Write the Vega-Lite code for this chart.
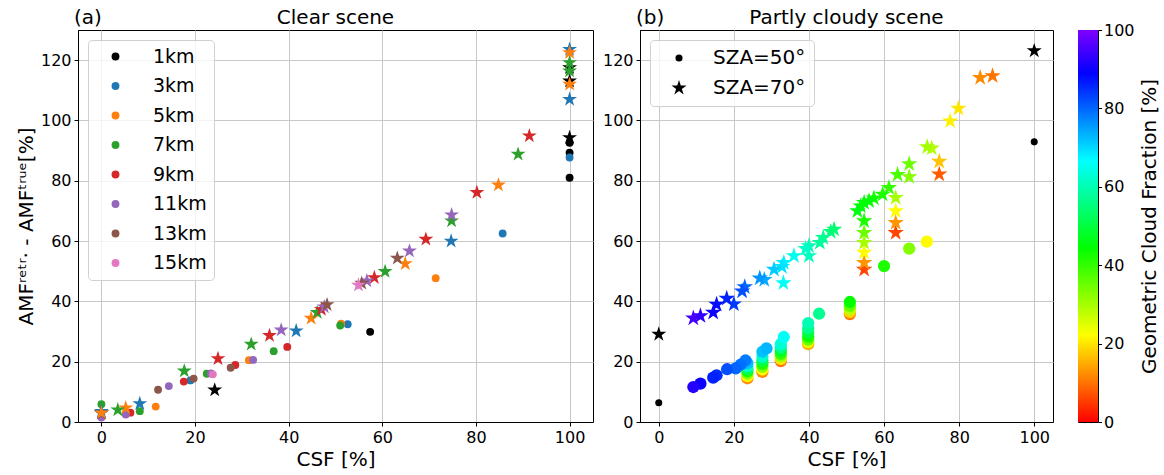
{
  "$schema": "https://vega.github.io/schema/vega-lite/v6.json",
  "padding": {"left": 15, "top": 7, "right": 2, "bottom": 2},
  "config": {
    "font": "DejaVu Sans",
    "view": {"stroke": "black", "strokeWidth": 1},
    "axis": {"labelFontSize": 16, "titleFontSize": 20, "titleFontWeight": "normal", "labelColor": "black", "titleColor": "black", "domainColor": "black", "tickColor": "black", "tickSize": 4, "gridColor": "#c8c8c8", "gridOpacity": 1, "labelPadding": 3, "labelFlush": false, "titlePadding": 4},
    "legend": {"labelColor": "black", "titleColor": "black"}
  },
  "datasets": {
    "clear": [
      {"alt": "1km", "sza": "SZA=50°", "csf": 57.4, "amf": 29.9},
      {"alt": "1km", "sza": "SZA=50°", "csf": 100, "amf": 92.6},
      {"alt": "1km", "sza": "SZA=50°", "csf": 100, "amf": 89.3},
      {"alt": "1km", "sza": "SZA=50°", "csf": 100, "amf": 81.0},
      {"alt": "3km", "sza": "SZA=50°", "csf": 19.0, "amf": 13.8},
      {"alt": "3km", "sza": "SZA=50°", "csf": 52.6, "amf": 32.4},
      {"alt": "3km", "sza": "SZA=50°", "csf": 85.7, "amf": 62.5},
      {"alt": "3km", "sza": "SZA=50°", "csf": 100, "amf": 87.7},
      {"alt": "5km", "sza": "SZA=50°", "csf": 11.6, "amf": 5.1},
      {"alt": "5km", "sza": "SZA=50°", "csf": 31.5, "amf": 20.5},
      {"alt": "5km", "sza": "SZA=50°", "csf": 51.2, "amf": 32.6},
      {"alt": "5km", "sza": "SZA=50°", "csf": 71.4, "amf": 47.7},
      {"alt": "7km", "sza": "SZA=50°", "csf": 0, "amf": 5.9},
      {"alt": "7km", "sza": "SZA=50°", "csf": 8.2, "amf": 3.6},
      {"alt": "7km", "sza": "SZA=50°", "csf": 22.5, "amf": 16.0},
      {"alt": "7km", "sza": "SZA=50°", "csf": 36.8, "amf": 23.5},
      {"alt": "7km", "sza": "SZA=50°", "csf": 51.0, "amf": 32.0},
      {"alt": "9km", "sza": "SZA=50°", "csf": 6.2, "amf": 3.1},
      {"alt": "9km", "sza": "SZA=50°", "csf": 17.6, "amf": 13.4},
      {"alt": "9km", "sza": "SZA=50°", "csf": 28.6, "amf": 18.9},
      {"alt": "9km", "sza": "SZA=50°", "csf": 39.7, "amf": 24.9},
      {"alt": "11km", "sza": "SZA=50°", "csf": 0, "amf": 1.5},
      {"alt": "11km", "sza": "SZA=50°", "csf": 5.2, "amf": 2.5},
      {"alt": "11km", "sza": "SZA=50°", "csf": 14.4, "amf": 11.9},
      {"alt": "11km", "sza": "SZA=50°", "csf": 23.4, "amf": 16.1},
      {"alt": "11km", "sza": "SZA=50°", "csf": 32.4, "amf": 20.6},
      {"alt": "13km", "sza": "SZA=50°", "csf": 12.1, "amf": 10.7},
      {"alt": "13km", "sza": "SZA=50°", "csf": 19.7, "amf": 14.4},
      {"alt": "13km", "sza": "SZA=50°", "csf": 27.6, "amf": 18.0},
      {"alt": "15km", "sza": "SZA=50°", "csf": 23.8, "amf": 15.8},
      {"alt": "1km", "sza": "SZA=70°", "csf": 0, "amf": 3.0},
      {"alt": "1km", "sza": "SZA=70°", "csf": 24.2, "amf": 10.6},
      {"alt": "1km", "sza": "SZA=70°", "csf": 100, "amf": 94.3},
      {"alt": "1km", "sza": "SZA=70°", "csf": 100, "amf": 113.1},
      {"alt": "1km", "sza": "SZA=70°", "csf": 100, "amf": 117.5},
      {"alt": "3km", "sza": "SZA=70°", "csf": 0, "amf": 3.5},
      {"alt": "3km", "sza": "SZA=70°", "csf": 8.2, "amf": 6.1},
      {"alt": "3km", "sza": "SZA=70°", "csf": 41.6, "amf": 30.2},
      {"alt": "3km", "sza": "SZA=70°", "csf": 74.7, "amf": 60.0},
      {"alt": "3km", "sza": "SZA=70°", "csf": 100, "amf": 107.0},
      {"alt": "3km", "sza": "SZA=70°", "csf": 100, "amf": 123.6},
      {"alt": "5km", "sza": "SZA=70°", "csf": 0, "amf": 3.0},
      {"alt": "5km", "sza": "SZA=70°", "csf": 5.2, "amf": 4.7},
      {"alt": "5km", "sza": "SZA=70°", "csf": 44.8, "amf": 34.4},
      {"alt": "5km", "sza": "SZA=70°", "csf": 64.9, "amf": 52.5},
      {"alt": "5km", "sza": "SZA=70°", "csf": 84.8, "amf": 78.6},
      {"alt": "5km", "sza": "SZA=70°", "csf": 100, "amf": 112.0},
      {"alt": "5km", "sza": "SZA=70°", "csf": 100, "amf": 122.5},
      {"alt": "7km", "sza": "SZA=70°", "csf": 3.5, "amf": 4.0},
      {"alt": "7km", "sza": "SZA=70°", "csf": 17.7, "amf": 16.9},
      {"alt": "7km", "sza": "SZA=70°", "csf": 32.0, "amf": 25.8},
      {"alt": "7km", "sza": "SZA=70°", "csf": 46.1, "amf": 36.3},
      {"alt": "7km", "sza": "SZA=70°", "csf": 60.6, "amf": 49.9},
      {"alt": "7km", "sza": "SZA=70°", "csf": 74.8, "amf": 66.7},
      {"alt": "7km", "sza": "SZA=70°", "csf": 89.0, "amf": 88.8},
      {"alt": "7km", "sza": "SZA=70°", "csf": 100, "amf": 116.4},
      {"alt": "7km", "sza": "SZA=70°", "csf": 100, "amf": 119.2},
      {"alt": "9km", "sza": "SZA=70°", "csf": 24.9, "amf": 21.0},
      {"alt": "9km", "sza": "SZA=70°", "csf": 35.9, "amf": 28.7},
      {"alt": "9km", "sza": "SZA=70°", "csf": 47.0, "amf": 37.3},
      {"alt": "9km", "sza": "SZA=70°", "csf": 58.3, "amf": 47.9},
      {"alt": "9km", "sza": "SZA=70°", "csf": 69.3, "amf": 60.6},
      {"alt": "9km", "sza": "SZA=70°", "csf": 80.2, "amf": 76.1},
      {"alt": "9km", "sza": "SZA=70°", "csf": 91.4, "amf": 94.9},
      {"alt": "11km", "sza": "SZA=70°", "csf": 38.4, "amf": 30.5},
      {"alt": "11km", "sza": "SZA=70°", "csf": 47.6, "amf": 38.2},
      {"alt": "11km", "sza": "SZA=70°", "csf": 56.7, "amf": 46.8},
      {"alt": "11km", "sza": "SZA=70°", "csf": 65.8, "amf": 56.7},
      {"alt": "11km", "sza": "SZA=70°", "csf": 74.8, "amf": 68.7},
      {"alt": "13km", "sza": "SZA=70°", "csf": 48.2, "amf": 38.9},
      {"alt": "13km", "sza": "SZA=70°", "csf": 55.6, "amf": 46.0},
      {"alt": "13km", "sza": "SZA=70°", "csf": 63.2, "amf": 54.3},
      {"alt": "15km", "sza": "SZA=70°", "csf": 54.9, "amf": 45.4}
    ],
    "cloudy": [
      {"sza": "SZA=50°", "csf": 32.5, "amf": 20.2, "gcf": 10},
      {"sza": "SZA=50°", "csf": 50.9, "amf": 35.8, "gcf": 10},
      {"sza": "SZA=50°", "csf": 23.6, "amf": 14.5, "gcf": 12},
      {"sza": "SZA=50°", "csf": 27.6, "amf": 16.6, "gcf": 12},
      {"sza": "SZA=50°", "csf": 39.8, "amf": 25.8, "gcf": 15},
      {"sza": "SZA=50°", "csf": 50.9, "amf": 36.4, "gcf": 18},
      {"sza": "SZA=50°", "csf": 32.5, "amf": 20.9, "gcf": 20},
      {"sza": "SZA=50°", "csf": 23.6, "amf": 15.2, "gcf": 22},
      {"sza": "SZA=50°", "csf": 27.6, "amf": 17.4, "gcf": 22},
      {"sza": "SZA=50°", "csf": 71.4, "amf": 59.8, "gcf": 22},
      {"sza": "SZA=50°", "csf": 39.8, "amf": 26.5, "gcf": 25},
      {"sza": "SZA=50°", "csf": 50.9, "amf": 37.3, "gcf": 28},
      {"sza": "SZA=50°", "csf": 32.5, "amf": 21.7, "gcf": 30},
      {"sza": "SZA=50°", "csf": 23.6, "amf": 16.0, "gcf": 32},
      {"sza": "SZA=50°", "csf": 27.6, "amf": 18.3, "gcf": 32},
      {"sza": "SZA=50°", "csf": 66.7, "amf": 57.5, "gcf": 33},
      {"sza": "SZA=50°", "csf": 39.8, "amf": 27.3, "gcf": 35},
      {"sza": "SZA=50°", "csf": 50.9, "amf": 38.5, "gcf": 36},
      {"sza": "SZA=50°", "csf": 32.5, "amf": 22.6, "gcf": 40},
      {"sza": "SZA=50°", "csf": 23.6, "amf": 16.8, "gcf": 42},
      {"sza": "SZA=50°", "csf": 27.6, "amf": 19.3, "gcf": 42},
      {"sza": "SZA=50°", "csf": 60.0, "amf": 51.7, "gcf": 42},
      {"sza": "SZA=50°", "csf": 39.8, "amf": 28.3, "gcf": 43},
      {"sza": "SZA=50°", "csf": 50.9, "amf": 39.8, "gcf": 44},
      {"sza": "SZA=50°", "csf": 32.5, "amf": 23.6, "gcf": 48},
      {"sza": "SZA=50°", "csf": 39.8, "amf": 29.6, "gcf": 50},
      {"sza": "SZA=50°", "csf": 23.6, "amf": 17.6, "gcf": 52},
      {"sza": "SZA=50°", "csf": 27.6, "amf": 20.4, "gcf": 52},
      {"sza": "SZA=50°", "csf": 32.5, "amf": 24.7, "gcf": 56},
      {"sza": "SZA=50°", "csf": 39.8, "amf": 31.1, "gcf": 56},
      {"sza": "SZA=50°", "csf": 42.7, "amf": 35.9, "gcf": 57},
      {"sza": "SZA=50°", "csf": 39.8, "amf": 32.8, "gcf": 60},
      {"sza": "SZA=50°", "csf": 23.6, "amf": 18.5, "gcf": 62},
      {"sza": "SZA=50°", "csf": 27.6, "amf": 21.7, "gcf": 62},
      {"sza": "SZA=50°", "csf": 32.5, "amf": 25.8, "gcf": 63},
      {"sza": "SZA=50°", "csf": 33.3, "amf": 28.2, "gcf": 66},
      {"sza": "SZA=50°", "csf": 23.6, "amf": 19.5, "gcf": 72},
      {"sza": "SZA=50°", "csf": 27.6, "amf": 23.3, "gcf": 72},
      {"sza": "SZA=50°", "csf": 28.7, "amf": 24.4, "gcf": 73},
      {"sza": "SZA=50°", "csf": 23.1, "amf": 20.4, "gcf": 78},
      {"sza": "SZA=50°", "csf": 21.8, "amf": 19.0, "gcf": 79},
      {"sza": "SZA=50°", "csf": 20.5, "amf": 17.8, "gcf": 80},
      {"sza": "SZA=50°", "csf": 18.2, "amf": 17.5, "gcf": 82},
      {"sza": "SZA=50°", "csf": 15.4, "amf": 15.5, "gcf": 85},
      {"sza": "SZA=50°", "csf": 14.5, "amf": 14.7, "gcf": 86},
      {"sza": "SZA=50°", "csf": 11.1, "amf": 12.7, "gcf": 90},
      {"sza": "SZA=50°", "csf": 9.2, "amf": 11.6, "gcf": 92},
      {"sza": "SZA=70°", "csf": 54.7, "amf": 50.6, "gcf": 6},
      {"sza": "SZA=70°", "csf": 63.1, "amf": 62.8, "gcf": 6},
      {"sza": "SZA=70°", "csf": 74.7, "amf": 82.2, "gcf": 8},
      {"sza": "SZA=70°", "csf": 88.9, "amf": 114.8, "gcf": 10},
      {"sza": "SZA=70°", "csf": 85.6, "amf": 114.2, "gcf": 12},
      {"sza": "SZA=70°", "csf": 54.7, "amf": 52.8, "gcf": 13},
      {"sza": "SZA=70°", "csf": 63.1, "amf": 66.1, "gcf": 13},
      {"sza": "SZA=70°", "csf": 74.7, "amf": 86.4, "gcf": 17},
      {"sza": "SZA=70°", "csf": 79.8, "amf": 104.0, "gcf": 20},
      {"sza": "SZA=70°", "csf": 77.6, "amf": 99.8, "gcf": 21},
      {"sza": "SZA=70°", "csf": 54.7, "amf": 56.2, "gcf": 22},
      {"sza": "SZA=70°", "csf": 63.1, "amf": 70.0, "gcf": 22},
      {"sza": "SZA=70°", "csf": 72.7, "amf": 90.8, "gcf": 29},
      {"sza": "SZA=70°", "csf": 71.5, "amf": 91.2, "gcf": 30},
      {"sza": "SZA=70°", "csf": 54.7, "amf": 59.5, "gcf": 30},
      {"sza": "SZA=70°", "csf": 63.1, "amf": 74.4, "gcf": 30},
      {"sza": "SZA=70°", "csf": 66.7, "amf": 81.3, "gcf": 33},
      {"sza": "SZA=70°", "csf": 54.7, "amf": 62.8, "gcf": 35},
      {"sza": "SZA=70°", "csf": 66.7, "amf": 85.6, "gcf": 35},
      {"sza": "SZA=70°", "csf": 63.6, "amf": 82.0, "gcf": 38},
      {"sza": "SZA=70°", "csf": 61.3, "amf": 77.7, "gcf": 40},
      {"sza": "SZA=70°", "csf": 54.7, "amf": 66.7, "gcf": 42},
      {"sza": "SZA=70°", "csf": 59.6, "amf": 75.5, "gcf": 42},
      {"sza": "SZA=70°", "csf": 57.3, "amf": 74.2, "gcf": 43},
      {"sza": "SZA=70°", "csf": 56.0, "amf": 73.3, "gcf": 44},
      {"sza": "SZA=70°", "csf": 54.7, "amf": 72.7, "gcf": 45},
      {"sza": "SZA=70°", "csf": 53.8, "amf": 71.6, "gcf": 45},
      {"sza": "SZA=70°", "csf": 52.9, "amf": 70.0, "gcf": 46},
      {"sza": "SZA=70°", "csf": 46.7, "amf": 63.9, "gcf": 54},
      {"sza": "SZA=70°", "csf": 45.8, "amf": 63.1, "gcf": 55},
      {"sza": "SZA=70°", "csf": 43.8, "amf": 61.1, "gcf": 57},
      {"sza": "SZA=70°", "csf": 42.9, "amf": 59.5, "gcf": 58},
      {"sza": "SZA=70°", "csf": 40.0, "amf": 58.4, "gcf": 60},
      {"sza": "SZA=70°", "csf": 40.0, "amf": 55.1, "gcf": 61},
      {"sza": "SZA=70°", "csf": 39.1, "amf": 57.5, "gcf": 62},
      {"sza": "SZA=70°", "csf": 36.0, "amf": 55.1, "gcf": 65},
      {"sza": "SZA=70°", "csf": 33.2, "amf": 46.1, "gcf": 66},
      {"sza": "SZA=70°", "csf": 33.3, "amf": 52.8, "gcf": 68},
      {"sza": "SZA=70°", "csf": 32.8, "amf": 51.5, "gcf": 69},
      {"sza": "SZA=70°", "csf": 30.7, "amf": 50.6, "gcf": 71},
      {"sza": "SZA=70°", "csf": 28.1, "amf": 47.2, "gcf": 74},
      {"sza": "SZA=70°", "csf": 26.9, "amf": 47.7, "gcf": 76},
      {"sza": "SZA=70°", "csf": 22.9, "amf": 44.8, "gcf": 80},
      {"sza": "SZA=70°", "csf": 22.2, "amf": 43.4, "gcf": 82},
      {"sza": "SZA=70°", "csf": 20.0, "amf": 39.1, "gcf": 84},
      {"sza": "SZA=70°", "csf": 18.1, "amf": 41.0, "gcf": 86},
      {"sza": "SZA=70°", "csf": 15.4, "amf": 39.0, "gcf": 88},
      {"sza": "SZA=70°", "csf": 14.5, "amf": 36.3, "gcf": 90},
      {"sza": "SZA=70°", "csf": 11.1, "amf": 35.2, "gcf": 93},
      {"sza": "SZA=70°", "csf": 9.2, "amf": 34.4, "gcf": 95}
    ],
    "cloudyBlack": [
      {"sza": "SZA=50°", "csf": 0, "amf": 6.4},
      {"sza": "SZA=50°", "csf": 100, "amf": 92.9},
      {"sza": "SZA=70°", "csf": 0, "amf": 29.1},
      {"sza": "SZA=70°", "csf": 100, "amf": 123.1}
    ]
  },
  "hconcat": [
    {
      "width": 515,
      "height": 392,
      "layer": [
        {
          "data": {"name": "clear"},
          "mark": {"type": "point", "filled": true, "opacity": 1, "strokeWidth": 0},
          "encoding": {
            "x": {"field": "csf", "type": "quantitative", "scale": {"domain": [-5, 105], "nice": false, "zero": false}, "axis": {"values": [0, 20, 40, 60, 80, 100], "title": "CSF [%]"}},
            "y": {"field": "amf", "type": "quantitative", "scale": {"domain": [0, 130], "nice": false, "zero": false}, "axis": {"values": [0, 20, 40, 60, 80, 100, 120], "title": "AMFʳᵉᵗʳ· - AMFᵗʳᵘᵉ[%]"}},
            "color": {"field": "alt", "type": "nominal", "scale": {"domain": ["1km", "3km", "5km", "7km", "9km", "11km", "13km", "15km"], "range": ["#000000", "#1f77b4", "#ff7f0e", "#2ca02c", "#d62728", "#9467bd", "#8c564b", "#e377c2"]},
              "legend": {"orient": "top-left", "title": null, "offset": 10, "padding": 7, "rowPadding": 9.5, "labelFontSize": 19, "symbolSize": 62, "symbolType": "circle", "symbolStrokeWidth": 0, "symbolOffset": 11, "labelOffset": 28, "strokeColor": "#d0d0d0", "fillColor": "rgba(255,255,255,0.8)", "cornerRadius": 4}},
            "shape": {"field": "sza", "type": "nominal", "scale": {"domain": ["SZA=50°", "SZA=70°"], "range": ["circle", "M0,-1L0.2245,-0.309L0.951,-0.309L0.3633,0.118L0.588,0.809L0,0.382L-0.588,0.809L-0.3633,0.118L-0.951,-0.309L-0.2245,-0.309Z"]}, "legend": null},
            "size": {"condition": {"test": "datum.sza === 'SZA=50°'", "value": 62}, "value": 245}
          }
        },
        {
          "data": {"values": [{"label": "(a)", "title": "Clear scene"}]},
          "layer": [
            {
              "mark": {"type": "text", "align": "left", "baseline": "alphabetic", "dx": -4, "dy": -6, "fontSize": 20, "color": "black"},
              "encoding": {
                "x": {"datum": -5, "type": "quantitative"},
                "y": {"datum": 130, "type": "quantitative"},
                "text": {"field": "label", "type": "nominal"}
              }
            },
            {
              "mark": {"type": "text", "align": "center", "baseline": "alphabetic", "dy": -6, "fontSize": 20, "color": "black"},
              "encoding": {
                "x": {"datum": 50, "type": "quantitative"},
                "y": {"datum": 130, "type": "quantitative"},
                "text": {"field": "title", "type": "nominal"}
              }
            }
          ]
        }
      ]
    },
    {
      "hconcat": [
        {
          "width": 413,
          "height": 392,
          "layer": [
            {
              "data": {"name": "cloudy"},
              "mark": {"type": "point", "filled": true, "opacity": 1, "strokeWidth": 0},
              "encoding": {
                "x": {"field": "csf", "type": "quantitative", "scale": {"domain": [-5, 105], "nice": false, "zero": false}, "axis": {"values": [0, 20, 40, 60, 80, 100], "title": "CSF [%]"}},
                "y": {"field": "amf", "type": "quantitative", "scale": {"domain": [0, 130], "nice": false, "zero": false}, "axis": {"values": [0, 20, 40, 60, 80, 100, 120], "title": null}},
                "color": {"field": "gcf", "type": "quantitative", "scale": {"domain": [0, 22.222, 44.444, 66.667, 88.889, 100], "range": ["#ff0000", "#ffff00", "#00ff00", "#00ffff", "#0000ff", "#8000ff"], "interpolate": "rgb"}, "legend": null},
                "shape": {"field": "sza", "type": "nominal", "scale": {"domain": ["SZA=50°", "SZA=70°"], "range": ["circle", "M0,-1L0.2245,-0.309L0.951,-0.309L0.3633,0.118L0.588,0.809L0,0.382L-0.588,0.809L-0.3633,0.118L-0.951,-0.309L-0.2245,-0.309Z"]},
                  "legend": {"orient": "top-left", "title": null, "offset": 10, "padding": 8, "rowPadding": 10, "labelFontSize": 20, "symbolOffset": 11, "labelOffset": 24, "symbolStrokeWidth": 0, "strokeColor": "#d0d0d0", "fillColor": "rgba(255,255,255,0.8)", "cornerRadius": 4, "symbolFillColor": "black"}},
                "size": {"condition": {"test": "datum.sza === 'SZA=50°'", "value": 150}, "value": 300}
              }
            },
            {
              "data": {"name": "cloudyBlack"},
              "mark": {"type": "point", "filled": true, "opacity": 1, "strokeWidth": 0, "color": "black"},
              "encoding": {
                "x": {"field": "csf", "type": "quantitative"},
                "y": {"field": "amf", "type": "quantitative"},
                "shape": {"field": "sza", "type": "nominal",
                  "legend": {"orient": "top-left", "title": null, "offset": 10, "padding": 8, "rowPadding": 10, "labelFontSize": 20, "symbolOffset": 11, "labelOffset": 24, "symbolStrokeWidth": 0, "strokeColor": "#d0d0d0", "fillColor": "rgba(255,255,255,0.8)", "cornerRadius": 4, "symbolFillColor": "black"}},
                "size": {"field": "sza", "type": "nominal", "scale": {"domain": ["SZA=50°", "SZA=70°"], "range": [50, 250]},
                  "legend": {"orient": "top-left", "title": null, "offset": 10, "padding": 8, "rowPadding": 10, "labelFontSize": 20, "symbolOffset": 11, "labelOffset": 24, "symbolStrokeWidth": 0, "strokeColor": "#d0d0d0", "fillColor": "rgba(255,255,255,0.8)", "cornerRadius": 4, "symbolFillColor": "black"}}
              }
            },
            {
              "data": {"values": [{"label": "(b)", "title": "Partly cloudy scene"}]},
              "layer": [
                {
                  "mark": {"type": "text", "align": "left", "baseline": "alphabetic", "dx": -4, "dy": -6, "fontSize": 20, "color": "black"},
                  "encoding": {
                    "x": {"datum": -5, "type": "quantitative"},
                    "y": {"datum": 130, "type": "quantitative"},
                    "text": {"field": "label", "type": "nominal"}
                  }
                },
                {
                  "mark": {"type": "text", "align": "center", "baseline": "alphabetic", "dy": -6, "fontSize": 20, "color": "black"},
                  "encoding": {
                    "x": {"datum": 50, "type": "quantitative"},
                    "y": {"datum": 130, "type": "quantitative"},
                    "text": {"field": "title", "type": "nominal"}
                  }
                }
              ]
            }
          ]
        },
        {
          "width": 20,
          "height": 392,
          "data": {"values": [{"low": 0, "high": 100}]},
          "mark": {"type": "rect", "color": {"gradient": "linear", "x1": 0, "y1": 1, "x2": 0, "y2": 0, "stops": [{"offset": 0, "color": "#ff0000"}, {"offset": 0.22222, "color": "#ffff00"}, {"offset": 0.44444, "color": "#00ff00"}, {"offset": 0.66667, "color": "#00ffff"}, {"offset": 0.88889, "color": "#0000ff"}, {"offset": 1, "color": "#8000ff"}]}},
          "encoding": {
            "y": {"field": "low", "type": "quantitative", "scale": {"domain": [0, 100], "nice": false, "zero": false}, "axis": {"orient": "right", "values": [0, 20, 40, 60, 80, 100], "title": "Geometric Cloud Fraction [%]", "titleAngle": 270, "titleBaseline": "top", "titlePadding": 5, "grid": false, "domain": false, "tickSize": 3.5, "labelPadding": 2}},
            "y2": {"field": "high"}
          }
        }
      ],
      "spacing": 25,
      "bounds": "flush",
      "resolve": {"scale": {"color": "independent", "shape": "independent", "size": "independent", "y": "independent"}}
    }
  ],
  "spacing": 47,
  "bounds": "flush",
  "resolve": {"scale": {"color": "independent", "shape": "independent", "size": "independent"}}
}
